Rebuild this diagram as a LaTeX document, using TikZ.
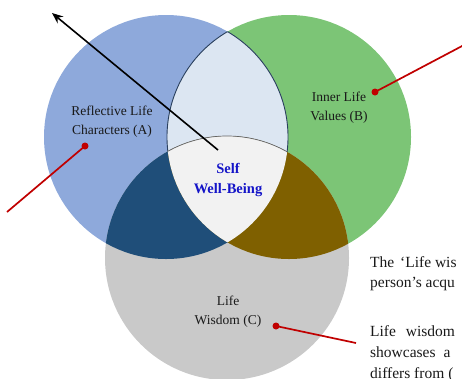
\documentclass[tikz,border=0pt]{standalone}
\usepackage{fontspec}
\setmainfont{Liberation Serif}
\usetikzlibrary{arrows.meta}
\definecolor{cA}{HTML}{8EA9DB}
\definecolor{cB}{HTML}{7CC576}
\definecolor{cC}{HTML}{C9C9C9}
\definecolor{cAB}{HTML}{DCE6F2}
\definecolor{cAC}{HTML}{1F4E79}
\definecolor{cBC}{HTML}{7F6000}
\definecolor{cABC}{HTML}{F2F2F2}
\definecolor{edge}{HTML}{2A3F5F}
\definecolor{selfblue}{HTML}{1414C8}
\definecolor{dotred}{HTML}{C00000}
\tikzset{
  lbl/.style={align=center, font=\fontsize{13.5}{19}\selectfont, text=black!90, inner sep=0pt},
  selflbl/.style={align=center, font=\fontsize{14.5}{20}\selectfont\bfseries, text=selfblue, inner sep=0pt},
  body/.style={anchor=base west, font=\fontsize{15.5}{21}\selectfont, text=black!90, inner sep=0pt},
  reddot/.style={circle, fill=dotred, minimum size=7pt, inner sep=0pt},
  redline/.style={draw=dotred, line width=1.7pt},
  arrowline/.style={draw=black, line width=1.6pt, -{Stealth[length=11pt,width=9pt]}}
}
\begin{document}
\begin{tikzpicture}[x=1pt,y=-1pt]
\useasboundingbox (0,0) rectangle (462,378);
\clip (0,0) rectangle (462,378);
% circles
\fill[cA] (166,137) circle[radius=122pt];
\fill[cB] (289,137) circle[radius=122pt];
\fill[cC] (227,258) circle[radius=122pt];
% A and B
\begin{scope}
  \clip (166,137) circle[radius=122pt];
  \fill[cAB] (289,137) circle[radius=122pt];
  \draw[edge, line width=0.9pt] (289,137) circle[radius=122pt];
\end{scope}
\begin{scope}
  \clip (289,137) circle[radius=122pt];
  \draw[edge, line width=0.9pt] (166,137) circle[radius=122pt];
\end{scope}
% A and C
\begin{scope}
  \clip (166,137) circle[radius=122pt];
  \fill[cAC] (227,258) circle[radius=122pt];
\end{scope}
% B and C
\begin{scope}
  \clip (289,137) circle[radius=122pt];
  \fill[cBC] (227,258) circle[radius=122pt];
\end{scope}
% A, B and C
\begin{scope}
  \clip (166,137) circle[radius=122pt];
  \clip (289,137) circle[radius=122pt];
  \fill[cABC] (227,258) circle[radius=122pt];
  \draw[black!60, line width=0.7pt] (227,258) circle[radius=122pt];
\end{scope}
% labels
\node[lbl] (labA) at (112,122) {Reflective Life\\Characters (A)};
\node[lbl] (labB) at (339,108) {Inner Life\\Values (B)};
\node[selflbl] (labS) at (228,180) {Self\\Well-Being};
\node[lbl] (labC) at (228,312) {Life\\Wisdom (C)};
% arrow
\coordinate (arrS) at (218,150);
\coordinate (arrE) at (52,13);
\draw[arrowline] (arrS) -- (arrE);
% red pointers
\node[reddot] (dA) at (85,146) {};
\coordinate (eA) at (7,212);
\draw[redline] (dA.center) -- (eA);
\node[reddot] (dB) at (375,92) {};
\coordinate (eB) at (464,45);
\draw[redline] (dB.center) -- (eB);
\node[reddot] (dC) at (276,326) {};
\coordinate (eC) at (356,343);
\draw[redline] (dC.center) -- (eC);
% body text fragments
\node[body] (t1) at (370,267) {The \hspace{2pt}‘Life wis};
\node[body] (t2) at (370,287) {person’s acqu};
\node[body] (t3) at (370,336) {Life \hspace{6pt}wisdom};
\node[body] (t4) at (370,357) {showcases \hspace{4pt}a};
\node[body] (t5) at (370,378) {differs from (};
\end{tikzpicture}
\end{document}
